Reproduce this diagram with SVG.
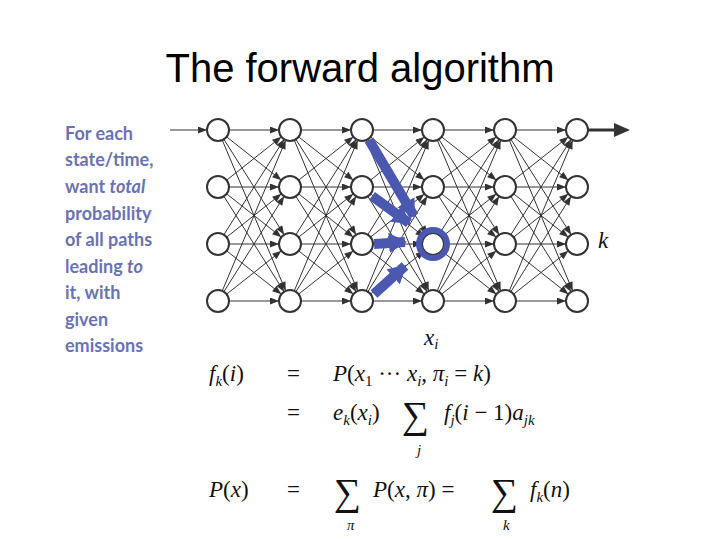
<svg xmlns="http://www.w3.org/2000/svg" width="720" height="540" viewBox="0 0 720 540">
<style>
.n{fill:#fff;stroke:#333;stroke-width:2}
.e{stroke:#333;stroke-width:1;marker-end:url(#a)}
.b{stroke:#4a58b0;stroke-width:10;marker-end:url(#ba)}
.t{font-family:Lato,"Open Sans",sans-serif;font-size:18px;font-weight:bold;fill:#6a72b4}
.m{font-family:"Liberation Serif",serif;font-size:23px;font-style:italic;fill:#111}
.r{font-family:"Liberation Serif",serif;font-size:23px;font-style:normal;fill:#111}
.s{font-size:15px}
.big{font-size:38px}
</style>
<defs>
<marker id="a" markerUnits="userSpaceOnUse" markerWidth="30" markerHeight="12" refX="21" refY="3.5" orient="auto"><path d="M1,0 L10,3.5 L1,7 z" fill="#333"/></marker>
<marker id="ba" markerUnits="userSpaceOnUse" markerWidth="30" markerHeight="30" refX="16" refY="10" orient="auto"><path d="M0,0 L18,10 L0,20 z" fill="#4a58b0"/></marker>
</defs>
<text x="360" y="82" text-anchor="middle" font-family="Liberation Sans,sans-serif" font-size="40" fill="#000">The forward algorithm</text>
<g id="caption" class="t">
<text x="65" y="140">For each</text>
<text x="65" y="166">state/time,</text>
<text x="65" y="193">want <tspan font-style="italic">total</tspan></text>
<text x="65" y="220">probability</text>
<text x="65" y="246">of all paths</text>
<text x="65" y="273">leading <tspan font-style="italic">to</tspan></text>
<text x="65" y="299">it, with</text>
<text x="65" y="326">given</text>
<text x="65" y="352">emissions</text>
</g>
<g id="connectors">
<line class="e" x1="170" y1="130" x2="218" y2="130"/>
<line x1="588" y1="130" x2="618" y2="130" stroke="#333" stroke-width="3"/>
<path d="M614,123 L630,130 L614,137 z" fill="#333"/>
<g id="g1">
<line class="e" x1="218" y1="130" x2="290" y2="130"/><line class="e" x1="218" y1="130" x2="290" y2="187"/><line class="e" x1="218" y1="130" x2="290" y2="244"/><line class="e" x1="218" y1="130" x2="290" y2="301"/>
<line class="e" x1="218" y1="187" x2="290" y2="130"/><line class="e" x1="218" y1="187" x2="290" y2="187"/><line class="e" x1="218" y1="187" x2="290" y2="244"/><line class="e" x1="218" y1="187" x2="290" y2="301"/>
<line class="e" x1="218" y1="244" x2="290" y2="130"/><line class="e" x1="218" y1="244" x2="290" y2="187"/><line class="e" x1="218" y1="244" x2="290" y2="244"/><line class="e" x1="218" y1="244" x2="290" y2="301"/>
<line class="e" x1="218" y1="301" x2="290" y2="130"/><line class="e" x1="218" y1="301" x2="290" y2="187"/><line class="e" x1="218" y1="301" x2="290" y2="244"/><line class="e" x1="218" y1="301" x2="290" y2="301"/>
</g>
<g id="g2">
<line class="e" x1="290" y1="130" x2="362" y2="130"/><line class="e" x1="290" y1="130" x2="362" y2="187"/><line class="e" x1="290" y1="130" x2="362" y2="244"/><line class="e" x1="290" y1="130" x2="362" y2="301"/>
<line class="e" x1="290" y1="187" x2="362" y2="130"/><line class="e" x1="290" y1="187" x2="362" y2="187"/><line class="e" x1="290" y1="187" x2="362" y2="244"/><line class="e" x1="290" y1="187" x2="362" y2="301"/>
<line class="e" x1="290" y1="244" x2="362" y2="130"/><line class="e" x1="290" y1="244" x2="362" y2="187"/><line class="e" x1="290" y1="244" x2="362" y2="244"/><line class="e" x1="290" y1="244" x2="362" y2="301"/>
<line class="e" x1="290" y1="301" x2="362" y2="130"/><line class="e" x1="290" y1="301" x2="362" y2="187"/><line class="e" x1="290" y1="301" x2="362" y2="244"/><line class="e" x1="290" y1="301" x2="362" y2="301"/>
</g>
<g id="g3">
<line class="e" x1="362" y1="130" x2="433" y2="130"/><line class="e" x1="362" y1="130" x2="433" y2="187"/><line class="e" x1="362" y1="130" x2="433" y2="244"/><line class="e" x1="362" y1="130" x2="433" y2="301"/>
<line class="e" x1="362" y1="187" x2="433" y2="130"/><line class="e" x1="362" y1="187" x2="433" y2="187"/><line class="e" x1="362" y1="187" x2="433" y2="244"/><line class="e" x1="362" y1="187" x2="433" y2="301"/>
<line class="e" x1="362" y1="244" x2="433" y2="130"/><line class="e" x1="362" y1="244" x2="433" y2="187"/><line class="e" x1="362" y1="244" x2="433" y2="244"/><line class="e" x1="362" y1="244" x2="433" y2="301"/>
<line class="e" x1="362" y1="301" x2="433" y2="130"/><line class="e" x1="362" y1="301" x2="433" y2="187"/><line class="e" x1="362" y1="301" x2="433" y2="244"/><line class="e" x1="362" y1="301" x2="433" y2="301"/>
</g>
<g id="g4">
<line class="e" x1="433" y1="130" x2="505" y2="130"/><line class="e" x1="433" y1="130" x2="505" y2="187"/><line class="e" x1="433" y1="130" x2="505" y2="244"/><line class="e" x1="433" y1="130" x2="505" y2="301"/>
<line class="e" x1="433" y1="187" x2="505" y2="130"/><line class="e" x1="433" y1="187" x2="505" y2="187"/><line class="e" x1="433" y1="187" x2="505" y2="244"/><line class="e" x1="433" y1="187" x2="505" y2="301"/>
<line class="e" x1="433" y1="244" x2="505" y2="130"/><line class="e" x1="433" y1="244" x2="505" y2="187"/><line class="e" x1="433" y1="244" x2="505" y2="244"/><line class="e" x1="433" y1="244" x2="505" y2="301"/>
<line class="e" x1="433" y1="301" x2="505" y2="130"/><line class="e" x1="433" y1="301" x2="505" y2="187"/><line class="e" x1="433" y1="301" x2="505" y2="244"/><line class="e" x1="433" y1="301" x2="505" y2="301"/>
</g>
<g id="g5">
<line class="e" x1="505" y1="130" x2="577" y2="130"/><line class="e" x1="505" y1="130" x2="577" y2="187"/><line class="e" x1="505" y1="130" x2="577" y2="244"/><line class="e" x1="505" y1="130" x2="577" y2="301"/>
<line class="e" x1="505" y1="187" x2="577" y2="130"/><line class="e" x1="505" y1="187" x2="577" y2="187"/><line class="e" x1="505" y1="187" x2="577" y2="244"/><line class="e" x1="505" y1="187" x2="577" y2="301"/>
<line class="e" x1="505" y1="244" x2="577" y2="130"/><line class="e" x1="505" y1="244" x2="577" y2="187"/><line class="e" x1="505" y1="244" x2="577" y2="244"/><line class="e" x1="505" y1="244" x2="577" y2="301"/>
<line class="e" x1="505" y1="301" x2="577" y2="130"/><line class="e" x1="505" y1="301" x2="577" y2="187"/><line class="e" x1="505" y1="301" x2="577" y2="244"/><line class="e" x1="505" y1="301" x2="577" y2="301"/>
</g>
</g>
<g id="nodes">
<circle class="n" cx="218" cy="130" r="11"/><circle class="n" cx="218" cy="187" r="11"/><circle class="n" cx="218" cy="244" r="11"/><circle class="n" cx="218" cy="301" r="11"/>
<circle class="n" cx="290" cy="130" r="11"/><circle class="n" cx="290" cy="187" r="11"/><circle class="n" cx="290" cy="244" r="11"/><circle class="n" cx="290" cy="301" r="11"/>
<circle class="n" cx="362" cy="130" r="11"/><circle class="n" cx="362" cy="187" r="11"/><circle class="n" cx="362" cy="244" r="11"/><circle class="n" cx="362" cy="301" r="11"/>
<circle class="n" cx="433" cy="130" r="11"/><circle class="n" cx="433" cy="187" r="11"/><circle class="n" cx="433" cy="244" r="11"/><circle class="n" cx="433" cy="301" r="11"/>
<circle class="n" cx="505" cy="130" r="11"/><circle class="n" cx="505" cy="187" r="11"/><circle class="n" cx="505" cy="244" r="11"/><circle class="n" cx="505" cy="301" r="11"/>
<circle class="n" cx="577" cy="130" r="11"/><circle class="n" cx="577" cy="187" r="11"/><circle class="n" cx="577" cy="244" r="11"/><circle class="n" cx="577" cy="301" r="11"/>
</g>
<g id="highlight">
<line class="b" x1="369" y1="140" x2="414" y2="216"/>
<line class="b" x1="372" y1="196" x2="409" y2="223"/>
<line class="b" x1="374" y1="244" x2="405" y2="242"/>
<line class="b" x1="374" y1="294" x2="405" y2="266"/>
<circle cx="433" cy="244" r="14" fill="none" stroke="#4a58b0" stroke-width="6"/>
</g>
<text class="m" x="598" y="248">k</text>
<text class="m" x="424" y="345">x<tspan class="s" dy="4">i</tspan></text>
<g id="math">
<text class="m" x="209" y="381">f<tspan class="s" dy="5">k</tspan><tspan class="r" dy="-5">(</tspan>i<tspan class="r">)</tspan></text>
<text class="r" x="287" y="381">=</text>
<text class="m" x="333" y="381">P<tspan class="r">(</tspan>x<tspan class="r s" dy="5">1</tspan><tspan class="r" dy="-5"> ··· </tspan>x<tspan class="s" dy="5">i</tspan><tspan class="r" dy="-5">, </tspan>π<tspan class="s" dy="5">i</tspan><tspan class="r" dy="-5"> = </tspan>k<tspan class="r">)</tspan></text>
<text class="r" x="287" y="420">=</text>
<text class="m" x="333" y="420">e<tspan class="s" dy="5">k</tspan><tspan class="r" dy="-5">(</tspan>x<tspan class="s" dy="5">i</tspan><tspan class="r" dy="-5">)</tspan></text>
<text class="r big" x="402" y="428">∑</text>
<text class="m s" x="417" y="455">j</text>
<text class="m" x="444" y="420">f<tspan class="s" dy="5">j</tspan><tspan class="r" dy="-5">(</tspan>i<tspan class="r"> − 1)</tspan>a<tspan class="s" dy="5">jk</tspan></text>
<text class="m" x="209" y="497">P<tspan class="r">(</tspan>x<tspan class="r">)</tspan></text>
<text class="r" x="287" y="497">=</text>
<text class="r big" x="334" y="505">∑</text>
<text class="m s" x="347" y="530">π</text>
<text class="m" x="373" y="497">P<tspan class="r">(</tspan>x<tspan class="r">, </tspan>π<tspan class="r">) = </tspan></text>
<text class="r big" x="491" y="505">∑</text>
<text class="m s" x="503" y="530">k</text>
<text class="m" x="530" y="497">f<tspan class="s" dy="5">k</tspan><tspan class="r" dy="-5">(</tspan>n<tspan class="r">)</tspan></text>
</g>
</svg>
